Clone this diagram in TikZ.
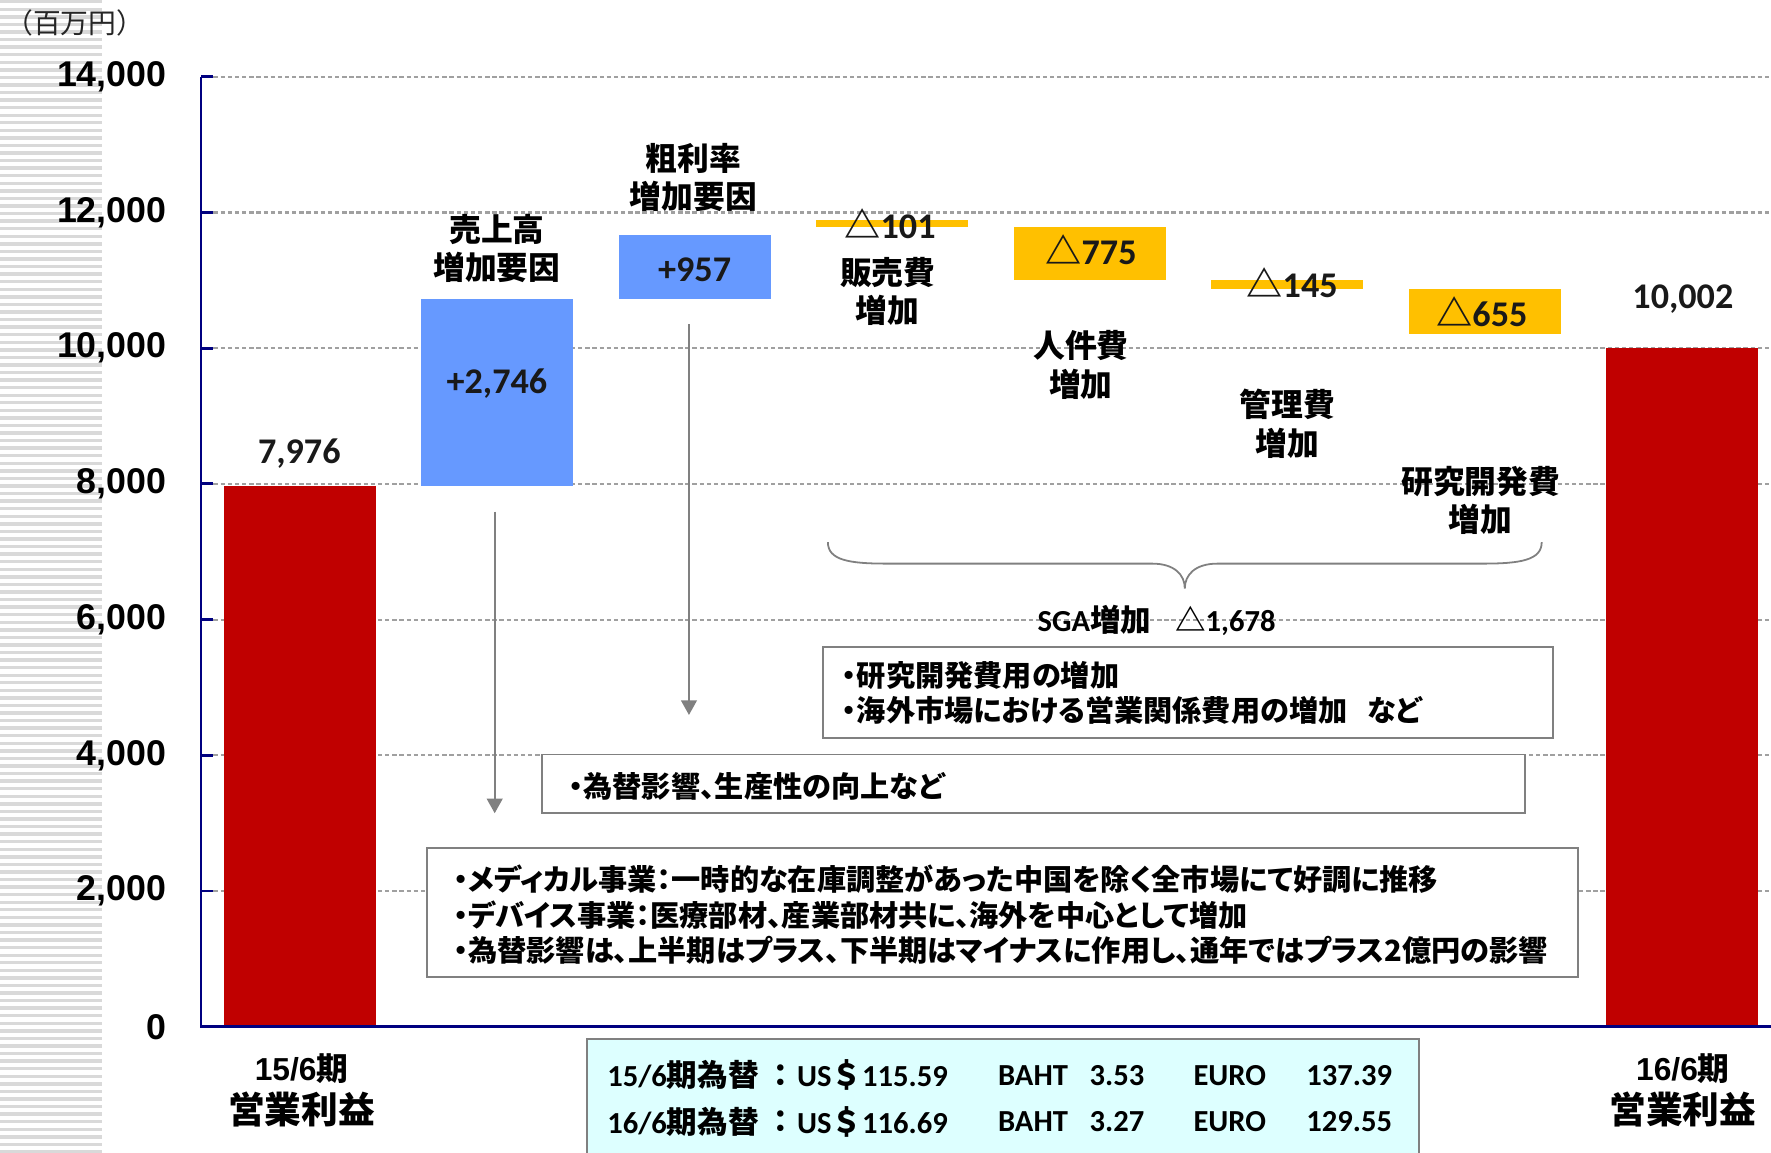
\documentclass[tikz,border=0pt]{standalone}
\usepackage{fontspec}
\usetikzlibrary{arrows.meta}
\newfontfamily\arl{Liberation Sans}
\newfontfamily\carl{Carlito}
\newfontfamily\jp{Noto Sans CJK JP}
\newfontfamily\jpp{Noto Sans CJK JP}[RawFeature=+palt]
\definecolor{barred}{RGB}{192,0,0}
\definecolor{barblue}{RGB}{102,153,255}
\definecolor{barorange}{RGB}{255,192,0}
\definecolor{axisnavy}{RGB}{0,0,128}
\definecolor{gridgray}{RGB}{160,160,160}
\definecolor{boxgray}{RGB}{128,128,128}
\definecolor{stripegray}{RGB}{217,217,217}
\definecolor{rateback}{RGB}{221,255,255}
\begin{document}
\begin{tikzpicture}[x=0.01cm,y=-0.01cm,
    axisline/.style={draw=axisnavy,line width=0.7pt},
    gridline/.style={draw=gridgray,line width=0.55pt,dash pattern=on 1.1pt off 0.7pt},
    redbar/.style={fill=barred},
    bluebar/.style={fill=barblue},
    sgabar/.style={fill=barorange},
    notebox/.style={draw=boxgray,line width=0.5pt,fill=white},
    noteline/.style={draw=boxgray,line width=0.45pt},
    ticklabel/.style={anchor=east,inner sep=0pt,font=\arl\bfseries\fontsize{9}{10}\selectfont},
    vallabel/.style={inner sep=0pt,text=black!90,font=\carl\bfseries\fontsize{9.1}{10}\selectfont},
    catlabel/.style={inner sep=0pt,align=center,font=\jp\bfseries\fontsize{8}{9.7}\selectfont},
    notetext/.style={anchor=west,inner sep=0pt,font=\jpp\bfseries\fontsize{7.35}{8}\selectfont},
    ratetext/.style={anchor=west,inner sep=0pt,font=\carl\bfseries\fontsize{7.7}{8}\selectfont}]
    \useasboundingbox (0,0) rectangle (1568,1020);
    %%%%% STRIPES %%%%%
    \foreach \k in {0,...,152}
        \fill[stripegray] (0,\k*6.7) rectangle (90,\k*6.7+3);
    \node[anchor=west,inner sep=0pt,text=black!85,font=\jp\fontsize{7}{8}\selectfont] (unit) at (4,20) {（百万円）};

    %%%%% AXES %%%%%
    \foreach \v in {2000,4000,...,14000}
        \draw[gridline] (189,{909-0.06007*\v}) -- (1568,{909-0.06007*\v});
    \foreach \v in {0,2000,...,14000}
        \draw[axisline] (178,{909-0.06007*\v}) -- (189,{909-0.06007*\v});
    \foreach \v/\t in {0/0,2000/{2,000},4000/{4,000},6000/{6,000},8000/{8,000},10000/{10,000},12000/{12,000},14000/{14,000}}
        \node[ticklabel] (y\v) at (148,{909-0.06007*\v}) {\t};

    %%%%% BARS %%%%%
    \fill[redbar] (198,430) rectangle (332.6,909);
    \fill[bluebar] (372.9,265) rectangle (507.5,430);
    \fill[bluebar] (547.8,208) rectangle (682.4,265);
    \fill[sgabar] (722.7,195) rectangle (857.3,201);
    \fill[sgabar] (897.6,201) rectangle (1032.2,248);
    \fill[sgabar] (1072.5,247.5) rectangle (1207.1,256);
    \fill[sgabar] (1247.4,256) rectangle (1382,295.5);
    \fill[redbar] (1422.3,308) rectangle (1556.9,909);
    \draw[axisline] (178,68) -- (178,909) -- (1568,909);

    \node[vallabel] (v7976) at (265,402) {7,976};
    \node[vallabel] (v2746) at (440,340) {+2,746};
    \node[vallabel] (v957) at (615,239) {+957};
    \node[vallabel] (v101) at (788,198) {{\jp △}101};
    \node[vallabel] (v775) at (966,221) {{\jp △}775};
    \node[vallabel] (v145) at (1144,250) {{\jp △}145};
    \node[vallabel] (v655) at (1312,276) {{\jp △}655};
    \node[vallabel] (v10002) at (1490,265) {10,002};

    \node[catlabel] (sales) at (440,220) {売上高\\増加要因};
    \node[catlabel] (margin) at (614,157) {粗利率\\増加要因};
    \node[catlabel] (selling) at (786,258) {販売費\\増加};
    \node[catlabel] (staff) at (957,323) {人件費\\増加};
    \node[catlabel] (admin) at (1140,375) {管理費\\増加};
    \node[catlabel] (rnd) at (1311,443) {研究開発費\\増加};

    \node[inner sep=0pt,font=\bfseries\fontsize{8}{9}\selectfont] (p15a) at (267,946) {{\arl 15/6}{\jp 期}};
    \node[inner sep=0pt,font=\jp\bfseries\fontsize{9.25}{10}\selectfont] (p15b) at (267,982) {営業利益};
    \node[inner sep=0pt,font=\bfseries\fontsize{8}{9}\selectfont] (p16a) at (1490,946) {{\arl 16/6}{\jp 期}};
    \node[inner sep=0pt,font=\jp\bfseries\fontsize{9.25}{10}\selectfont] (p16b) at (1490,982) {営業利益};

    %%%%% BRACE AND ARROWS %%%%%
    \draw[noteline] (733,480) .. controls (733,496) and (752,499) .. (785,499) -- (1020,499)
        .. controls (1040,499) and (1049,509) .. (1049,521)
        .. controls (1049,509) and (1058,499) .. (1078,499) -- (1313,499)
        .. controls (1346,499) and (1365,496) .. (1365,480);
    \node[inner sep=0pt,font=\carl\bfseries\fontsize{7.7}{8}\selectfont] (sga) at (1024,549)
        {SGA{\jpp 増加}\hspace{6pt}{\jp △}1,678};

    \coordinate (arrA) at (438,453);
    \coordinate (arrAend) at (438,720);
    \coordinate (arrB) at (610,287);
    \coordinate (arrBend) at (610,633);
    \draw[noteline,-{Triangle[length=3.7pt,width=4pt]}] (arrA) -- (arrAend);
    \draw[noteline,-{Triangle[length=3.7pt,width=4pt]}] (arrB) -- (arrBend);

    %%%%% NOTES %%%%%
    \draw[notebox] (729,573) rectangle (1375,653);
    \node[notetext] (na1) at (745,598) {・研究開発費用の増加};
    \node[notetext] (na2) at (745,629) {・海外市場における営業関係費用の増加\hspace{5pt}など};

    \draw[notebox] (480,668) rectangle (1350,720);
    \node[notetext] (nb1) at (503,696) {・為替影響、生産性の向上など};

    \draw[notebox] (378,751) rectangle (1397,865);
    \node[notetext] (nc1) at (401,778) {・メディカル事業：一時的な在庫調整があった中国を除く全市場にて好調に推移};
    \node[notetext] (nc2) at (401,810) {・デバイス事業：医療部材、産業部材共に、海外を中心として増加};
    \node[notetext] (nc3) at (401,841) {・為替影響は、上半期はプラス、下半期はマイナスに作用し、通年ではプラス2億円の影響};

    %%%%% RATES %%%%%
    \draw[notebox,fill=rateback] (520,920) rectangle (1256,1030);
    \foreach \r/\y/\p/\us/\bt/\eu in {1/952/15/115.59/3.53/137.39,2/993/16/116.69/3.27/129.55}{
        \node[ratetext] (rp\r) at (537,\y) {\p/6{\jp 期為替}};
        \node[ratetext,anchor=center] (rc\r) at (691,\y) {{\jpp ：}};
        \node[ratetext] (ru\r) at (705,\y) {US{\jp ＄}\us};
        \node[ratetext] (rb\r) at (883,\y) {BAHT};
        \node[ratetext] (rv\r) at (964,\y) {\bt};
        \node[ratetext] (re\r) at (1056,\y) {EURO};
        \node[ratetext] (rw\r) at (1156,\y) {\eu};
    }
\end{tikzpicture}
\end{document}
